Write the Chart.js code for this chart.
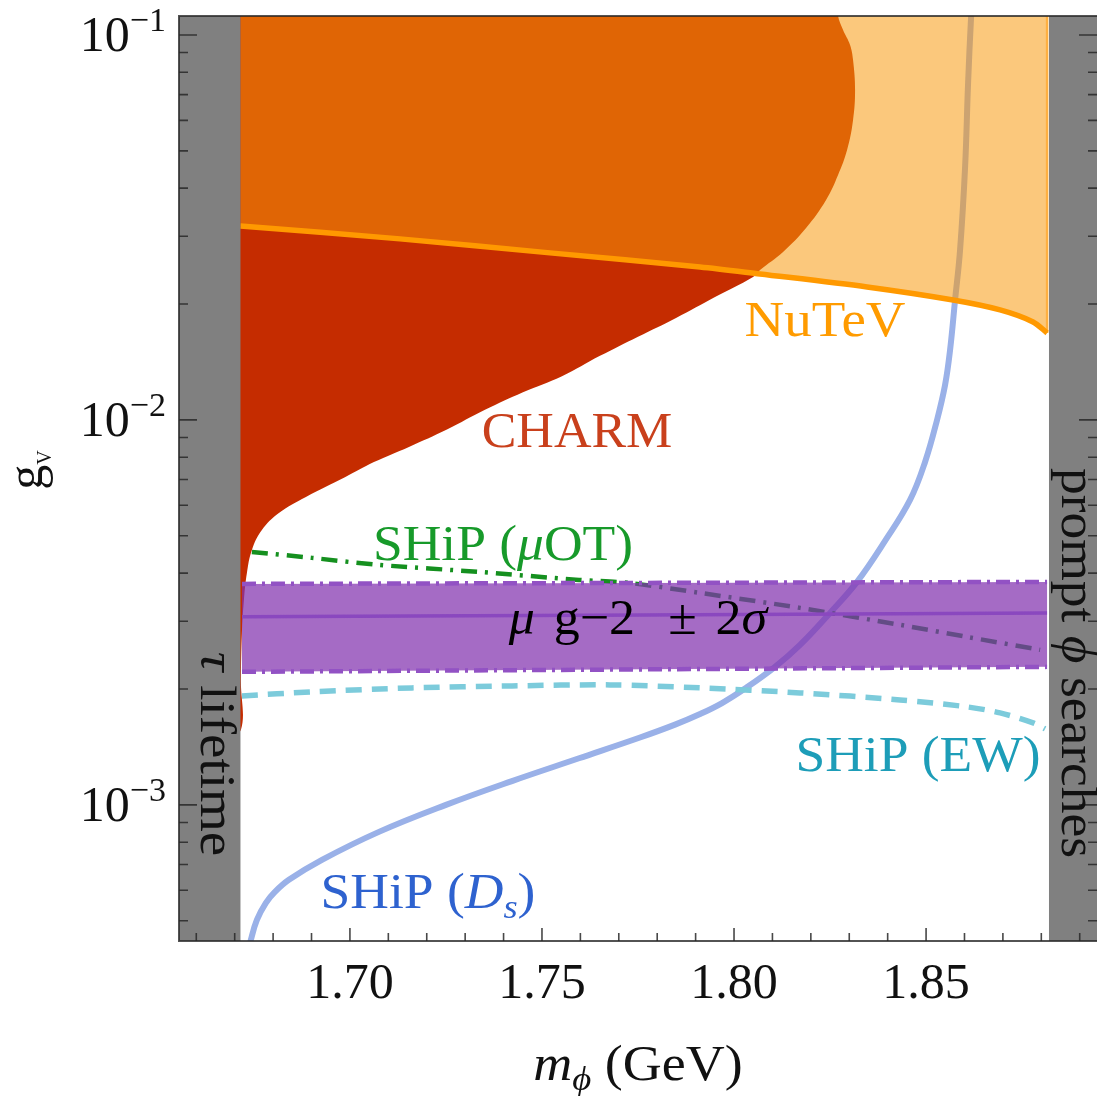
<!DOCTYPE html>
<html>
<head>
<meta charset="utf-8">
<script src="https://cdn.jsdelivr.net/npm/chart.js@4.4.1/dist/chart.umd.min.js"></script>
<style>
  html, body { margin: 0; padding: 0; background: #ffffff; }
  #wrap { width: 1097px; height: 1096px; }
</style>
</head>
<body>
<div id="wrap"><canvas id="c" width="1097" height="1096"></canvas></div>
<script>
// Axis ranges: scalar mass m_phi (GeV) and coupling g_V (log scale)
const mRange = [1.6555, 1.8945];
const gRange = [4.43e-4, 0.112];
const tauEdge = 1.6715;     // tau lifetime exclusion ends here
const promptEdge = 1.8820;  // prompt phi searches start here

const xTickValues = [1.70, 1.75, 1.80, 1.85];
const xTickLabels = ['1.70', '1.75', '1.80', '1.85'];
const yTickValues = [1e-3, 1e-2, 1e-1];
const yTickExponents = ['\u22123', '\u22122', '\u22121'];

// CHARM excluded region: right-hand boundary, from the top of the frame downwards
const charmM = [1.82708, 1.82839, 1.83021, 1.83099, 1.83151, 1.83099, 1.82943, 1.82708, 1.82396,
  1.81875, 1.81276, 1.80677, 1.80495, 1.79505, 1.78490, 1.77500, 1.76510, 1.75521, 1.74505,
  1.73516, 1.72526, 1.71536, 1.70625, 1.69870, 1.68854, 1.68151, 1.67708, 1.67448, 1.67318,
  1.67240, 1.67188, 1.67161, 1.67161];
const charmG = [0.11205, 0.10304, 0.09420, 0.08612, 0.07197, 0.06015, 0.05027, 0.04329, 0.03728,
  0.03152, 0.02732, 0.02453, 0.02352, 0.02087, 0.01841, 0.01645, 0.01467, 0.01299, 0.01180,
  0.01062, 0.009440, 0.008508, 0.007770, 0.007100, 0.006310, 0.005734, 0.005179, 0.004596,
  0.004005, 0.003408, 0.002797, 0.002112, 0.001566];

// NuTeV lower limit (excluded above)
const nutevM = [1.6715, 1.71302, 1.75208, 1.79115, 1.80677, 1.83464, 1.85703, 1.86927, 1.87786, 1.88151];
const nutevG = [0.03190, 0.02953, 0.02716, 0.02497, 0.02394, 0.02215, 0.02049, 0.01931, 0.01797, 0.01682];

// SHiP (D_s) projected sensitivity
const dsM = [1.67344, 1.67422, 1.67578, 1.67813, 1.68047, 1.68411, 1.69271, 1.70755, 1.72500,
  1.74219, 1.75964, 1.77552, 1.78464, 1.79115, 1.79688, 1.80286, 1.81068, 1.81719, 1.82500,
  1.83203, 1.83932, 1.84583, 1.84974, 1.85286, 1.85495, 1.85625, 1.85755, 1.85885, 1.86016,
  1.86094, 1.86172, 1.86198];
const dsG = [4.077e-4, 4.461e-4, 5.027e-4, 5.565e-4, 5.941e-4, 6.387e-4, 7.197e-4, 8.509e-4,
  1.000e-3, 1.1532e-3, 1.3214e-3, 1.4960e-3, 1.6159e-3, 1.7213e-3, 1.8384e-3, 2.0049e-3,
  2.2833e-3, 2.6035e-3, 3.1529e-3, 3.7951e-3, 4.8502e-3, 6.1973e-3, 7.777e-3, 1.0e-2,
  1.2328e-2, 1.5199e-2, 2.0491e-2, 2.7643e-2, 4.5414e-2, 7.5047e-2, 0.11138, 0.11967];

// SHiP (EW) projected sensitivity
const ewM = [1.67188, 1.69010, 1.71615, 1.74219, 1.76771, 1.79115, 1.81719, 1.84323, 1.86068,
  1.86927, 1.87786, 1.88099];
const ewG = [1.9192e-3, 1.9657e-3, 2.0133e-3, 2.0375e-3, 2.0497e-3, 2.0133e-3, 1.9540e-3,
  1.8738e-3, 1.7971e-3, 1.7338e-3, 1.6330e-3, 1.5754e-3];

// SHiP (muOT) projected sensitivity
const motM = [1.67448, 1.69010, 1.70755, 1.73359, 1.75964, 1.77266, 1.79115, 1.81719, 1.84323,
  1.86068, 1.87969];
const motG = [4.5413e-3, 4.3812e-3, 4.2012e-3, 4.0289e-3, 3.8408e-3, 3.7724e-3, 3.5531e-3,
  3.2484e-3, 2.9346e-3, 2.7312e-3, 2.5273e-3];

// Muon g-2 preferred band: central value and +/- 2 sigma
const g2M = [1.6719, 1.7768, 1.8815];
const g2Hi = [3.750e-3, 3.772e-3, 3.795e-3];
const g2Mid = [3.080e-3, 3.115e-3, 3.153e-3];
const g2Lo = [2.216e-3, 2.249e-3, 2.283e-3];

const pts = (ms, gs) => ms.map((m, i) => ({ x: m, y: gs[i] }));

const charmLastG = charmG[charmG.length - 1];
const charmShape = [{ x: tauEdge - 0.004, y: gRange[1] * 1.3 }, { x: charmM[0] - 0.0015, y: gRange[1] * 1.3 }]
  .concat(pts(charmM, charmG), [{ x: tauEdge - 0.004, y: charmLastG }]);
const nutevLine = pts(nutevM, nutevG);
const nutevEnd = nutevM[nutevM.length - 1];
const nutevShape = nutevLine.concat([{ x: nutevEnd, y: gRange[1] * 1.5 }, { x: nutevM[0], y: gRange[1] * 1.5 }]);
const bandShape = pts(g2M, g2Hi).concat(pts(g2M, g2Lo).reverse());
const leftGray = [{ x: mRange[0] - 0.01, y: gRange[0] / 2 }, { x: tauEdge, y: gRange[0] / 2 },
  { x: tauEdge, y: gRange[1] * 2 }, { x: mRange[0] - 0.01, y: gRange[1] * 2 }];
const rightGray = [{ x: promptEdge, y: gRange[0] / 2 }, { x: mRange[1] + 0.01, y: gRange[0] / 2 },
  { x: mRange[1] + 0.01, y: gRange[1] * 2 }, { x: promptEdge, y: gRange[1] * 2 }];

const base = { pointRadius: 0, pointHoverRadius: 0, clip: 0, tension: 0 };
const datasets = [
  Object.assign({}, base, { label: 'CHARM', data: charmShape, fill: 'shape', backgroundColor: '#c52c00', borderWidth: 0, order: 20, tension: 0.4 }),
  Object.assign({}, base, { label: 'SHiP (Ds)', data: pts(dsM, dsG), fill: false, borderColor: '#9ab1e8', borderWidth: 6, order: 19, tension: 0.4 }),
  Object.assign({}, base, { label: 'NuTeV region', data: nutevShape, fill: 'shape', backgroundColor: 'rgba(247,152,10,0.535)', borderWidth: 0, order: 18 }),
  Object.assign({}, base, { label: 'NuTeV edge', data: [{ x: nutevEnd, y: nutevG[nutevG.length - 1] }, { x: nutevEnd, y: gRange[1] * 2 }], fill: false, borderColor: '#ffb040', borderWidth: 2.5, order: 17 }),
  Object.assign({}, base, { label: 'NuTeV', data: nutevLine, fill: false, borderColor: '#ff9900', borderWidth: 5.5, order: 16, tension: 0.3 }),
  Object.assign({}, base, { label: 'SHiP (EW)', data: pts(ewM, ewG), fill: false, borderColor: '#7ccbdb', borderWidth: 5.5, borderDash: [16, 10], order: 15, tension: 0.3 }),
  Object.assign({}, base, { label: 'SHiP (muOT)', data: pts(motM, motG), fill: false, borderColor: '#15901f', borderWidth: 4.5, borderDash: [16, 8, 3, 8], order: 14, tension: 0.3 }),
  Object.assign({}, base, { label: 'g-2 band', data: bandShape, fill: 'shape', backgroundColor: 'rgba(130,50,175,0.72)', borderWidth: 0, order: 13 }),
  Object.assign({}, base, { label: 'g-2 upper', data: pts(g2M, g2Hi), fill: false, borderColor: '#9252c4', borderWidth: 4.5, borderDash: [14, 6, 3, 6], order: 12 }),
  Object.assign({}, base, { label: 'g-2 lower', data: pts(g2M, g2Lo), fill: false, borderColor: '#9252c4', borderWidth: 4.5, borderDash: [14, 6, 3, 6], order: 11 }),
  Object.assign({}, base, { label: 'g-2 central', data: pts(g2M, g2Mid), fill: false, borderColor: '#8a48bf', borderWidth: 3.5, order: 10 }),
  Object.assign({}, base, { label: 'tau lifetime', data: leftGray, fill: 'shape', backgroundColor: '#808080', borderWidth: 0, order: 2 }),
  Object.assign({}, base, { label: 'prompt searches', data: rightGray, fill: 'shape', backgroundColor: '#808080', borderWidth: 0, order: 1 })
];

const serif = '"Liberation Serif", "DejaVu Serif", serif';

// Draw a sequence of text runs (upright / italic / sub / superscript) on one baseline.
// hs stretches the line horizontally.
function drawRuns(ctx, runs, x, y, size, color, align, hs) {
  hs = hs || 1;
  const fontOf = r => (r.it ? 'italic ' : '') + Math.round(size * (r.sub || r.sup ? 0.68 : 1) * (r.k || 1)) + 'px ' + serif;
  let total = 0;
  const widths = runs.map(r => { ctx.font = fontOf(r); const w = ctx.measureText(r.t).width + (r.pad || 0); total += w; return w; });
  const start = align === 'center' ? x - total * hs / 2 : align === 'right' ? x - total * hs : x;
  ctx.save();
  ctx.translate(start, y);
  ctx.scale(hs, 1);
  ctx.fillStyle = color;
  ctx.textAlign = 'left';
  ctx.textBaseline = 'alphabetic';
  let cx = 0;
  runs.forEach((r, i) => {
    ctx.font = fontOf(r);
    const dy = r.sub ? size * (r.dy || 0.22) : r.sup ? -size * (r.dy || 0.42) : 0;
    ctx.fillText(r.t, cx, dy);
    cx += widths[i];
  });
  ctx.restore();
}

function drawRotated(ctx, runs, x, y, angle, size, color, hs) {
  ctx.save();
  ctx.translate(x, y);
  ctx.rotate(angle);
  drawRuns(ctx, runs, 0, 0, size, color, 'center', hs);
  ctx.restore();
}

const framePlugin = {
  id: 'frameAndLabels',
  afterDraw(chart) {
    const { ctx, chartArea: a, scales } = chart;
    const xs = scales.x, ys = scales.y;
    ctx.save();

    // frame
    ctx.strokeStyle = 'rgba(40,40,40,0.8)';
    ctx.lineWidth = 2;
    ctx.beginPath();
    ctx.moveTo(a.right + 1, a.top);
    ctx.lineTo(a.left, a.top);
    ctx.lineTo(a.left, a.bottom);
    ctx.lineTo(a.right + 1, a.bottom);
    ctx.stroke();

    // inward ticks
    ctx.lineWidth = 1.6;
    ctx.strokeStyle = 'rgba(40,40,40,0.85)';
    ctx.beginPath();
    for (let i = Math.ceil(mRange[0] * 100); i <= Math.floor(mRange[1] * 100); i++) {
      const px = xs.getPixelForValue(i / 100);
      const len = i % 5 === 0 ? 13 : 8;
      ctx.moveTo(px, a.bottom);
      ctx.lineTo(px, a.bottom - len);
    }
    for (let k = -4; k <= -1; k++) {
      for (let d = 1; d <= 9; d++) {
        const v = d * Math.pow(10, k);
        if (v < gRange[0] || v > gRange[1]) continue;
        const py = ys.getPixelForValue(v);
        const len = d === 1 ? 18 : 9;
        ctx.moveTo(a.left, py); ctx.lineTo(a.left + len, py);
        ctx.moveTo(a.right, py); ctx.lineTo(a.right - len, py);
      }
    }
    ctx.stroke();

    // tick labels
    xTickValues.forEach((v, i) => {
      drawRuns(ctx, [{ t: xTickLabels[i] }], xs.getPixelForValue(v), a.bottom + 57, 50, '#111', 'center');
    });
    yTickValues.forEach((v, i) => {
      drawRuns(ctx, [{ t: '10' }, { t: yTickExponents[i], sup: true, dy: 0.4 }], 166, ys.getPixelForValue(v) + 16, 50, '#111', 'right');
    });

    // axis titles
    drawRuns(ctx, [{ t: 'm', it: true }, { t: '\u03d5', it: true, sub: true, dy: 0.2 }, { t: ' (GeV)' }],
      (a.left + a.right) / 2, 1080, 50, '#111', 'center', 1.08);
    drawRotated(ctx, [{ t: 'g' }, { t: 'V', sub: true, k: 0.6, dy: 0.18 }], 42, 470, -Math.PI / 2, 50, '#111');

    // region labels
    drawRuns(ctx, [{ t: 'CHARM' }], 577, 447, 50, '#c9401c', 'center', 1.04);
    drawRuns(ctx, [{ t: 'NuTeV' }], 825, 336, 50, '#ff9b00', 'center', 1.1);
    drawRuns(ctx, [{ t: 'SHiP (' }, { t: '\u03bc', it: true }, { t: 'OT)' }], 503, 560, 50, '#179a2a', 'center', 1.07);
    drawRuns(ctx, [{ t: '\u03bc', it: true, pad: 18 }, { t: 'g\u22122', pad: 32 }, { t: '\u00b1', pad: 18 }, { t: '2' }, { t: '\u03c3', it: true }],
      638, 634, 50, '#000', 'center', 1.04);
    drawRuns(ctx, [{ t: 'SHiP (EW)' }], 918, 771, 50, '#1d9db8', 'center', 1.07);
    drawRuns(ctx, [{ t: 'SHiP (' }, { t: 'D', it: true }, { t: 's', it: true, sub: true, dy: 0.2 }, { t: ')' }], 428, 908, 50, '#2e62cf', 'center', 1.07);
    drawRotated(ctx, [{ t: '\u03c4', it: true }, { t: ' lifetime' }], 201, 754, Math.PI / 2, 50, '#111', 1.1);
    drawRotated(ctx, [{ t: 'prompt ' }, { t: '\u03d5', it: true }, { t: ' searches' }], 1062, 663, Math.PI / 2, 50, '#111', 1.07);

    ctx.restore();
  }
};

new Chart(document.getElementById('c'), {
  type: 'line',
  data: { datasets },
  options: {
    responsive: false,
    animation: false,
    events: [],
    layout: { padding: { left: 179, right: 0, top: 16, bottom: 155 } },
    plugins: { legend: { display: false }, tooltip: { enabled: false } },
    scales: {
      x: { type: 'linear', min: mRange[0], max: mRange[1], display: false },
      y: { type: 'logarithmic', min: gRange[0], max: gRange[1], display: false }
    }
  },
  plugins: [framePlugin]
});
</script>
</body>
</html>
